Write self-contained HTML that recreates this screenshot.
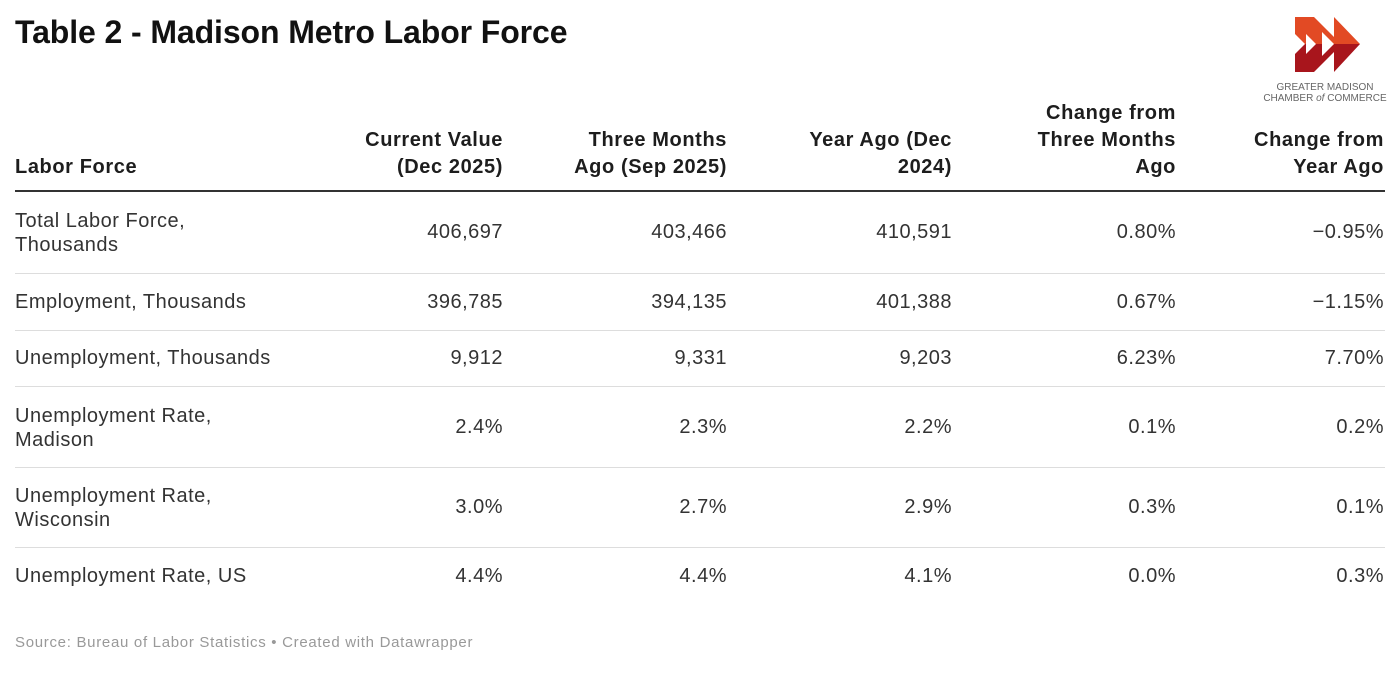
<!DOCTYPE html>
<html><head><meta charset="utf-8"><style>
body{margin:0;width:1400px;height:700px;background:#fff;font-family:"Liberation Sans",Arial,sans-serif;color:#222;position:relative;overflow:hidden}
.a{position:absolute}
.t{left:15px;top:14px;font-size:32px;font-weight:bold;color:#111;letter-spacing:-0.1px}
.h{font-size:20px;font-weight:bold;color:#1d1d1d;line-height:27px;text-align:right;bottom:519px;letter-spacing:0.6px}
.c{font-size:20px;line-height:24px;color:#333;letter-spacing:0.5px}
.r{text-align:right}
.line{left:15px;width:1370px;height:1px;background:#ddd}
</style></head><body>
<div class="a t">Table 2 - Madison Metro Labor Force</div>
<svg class="a" style="left:1292px;top:16px" width="70" height="58" viewBox="0 0 70 58">
<defs><clipPath id="top"><rect x="0" y="0" width="70" height="28"/></clipPath><clipPath id="bot"><rect x="0" y="28" width="70" height="30"/></clipPath></defs>
<g clip-path="url(#top)"><polygon points="3,1 22,1 42,21 42,1 68,28 42,56 42,36 22,56 3,56 3,38 13,28 3,18" fill="#e24a24"/></g>
<g clip-path="url(#bot)"><polygon points="3,1 22,1 42,21 42,1 68,28 42,56 42,36 22,56 3,56 3,38 13,28 3,18" fill="#a8151c"/></g>
<polygon points="14,18 24,28 14,38" fill="#fff"/>
<polygon points="30,16 42,28 30,40" fill="#fff"/>
</svg>
<div class="a" style="left:1250px;top:82px;width:150px;text-align:center;font-size:10px;line-height:11px;color:#666">GREATER MADISON<br>CHAMBER <i>of</i> COMMERCE</div>

<div class="a h" style="left:15px;text-align:left">Labor Force</div>
<div class="a h" style="right:897px">Current Value<br>(Dec 2025)</div>
<div class="a h" style="right:673px">Three Months<br>Ago (Sep 2025)</div>
<div class="a h" style="right:448px">Year Ago (Dec<br>2024)</div>
<div class="a h" style="right:224px">Change from<br>Three Months<br>Ago</div>
<div class="a h" style="right:16px">Change from<br>Year Ago</div>
<div class="a" style="left:15px;top:190px;width:1370px;height:2px;background:#333"></div>

<div class="a line" style="top:273px"></div>
<div class="a line" style="top:330px"></div>
<div class="a line" style="top:386px"></div>
<div class="a line" style="top:467px"></div>
<div class="a line" style="top:547px"></div>

<div id="rows"></div>
<script>
var R=[["Total Labor Force,<br>Thousands",232,"406,697","403,466","410,591","0.80%","−0.95%",1],
["Employment, Thousands",302,"396,785","394,135","401,388","0.67%","−1.15%",0],
["Unemployment, Thousands",358,"9,912","9,331","9,203","6.23%","7.70%",0],
["Unemployment Rate,<br>Madison",427,"2.4%","2.3%","2.2%","0.1%","0.2%",1],
["Unemployment Rate,<br>Wisconsin",507,"3.0%","2.7%","2.9%","0.3%","0.1%",1],
["Unemployment Rate, US",576,"4.4%","4.4%","4.1%","0.0%","0.3%",0]];
var rt=[897,673,448,224,16],h="";
R.forEach(function(r){var y=r[1]-12;
h+='<div class="a c" style="left:15px;top:'+(r[7]?y-11:y)+'px">'+r[0]+'</div>';
for(var i=0;i<5;i++)h+='<div class="a c r" style="right:'+rt[i]+'px;top:'+y+'px">'+r[i+2]+'</div>';});
document.getElementById("rows").innerHTML=h;
</script>
<div class="a" style="left:15px;top:634px;font-size:15px;color:#999;letter-spacing:0.7px">Source: Bureau of Labor Statistics • Created with Datawrapper</div>
</body></html>
